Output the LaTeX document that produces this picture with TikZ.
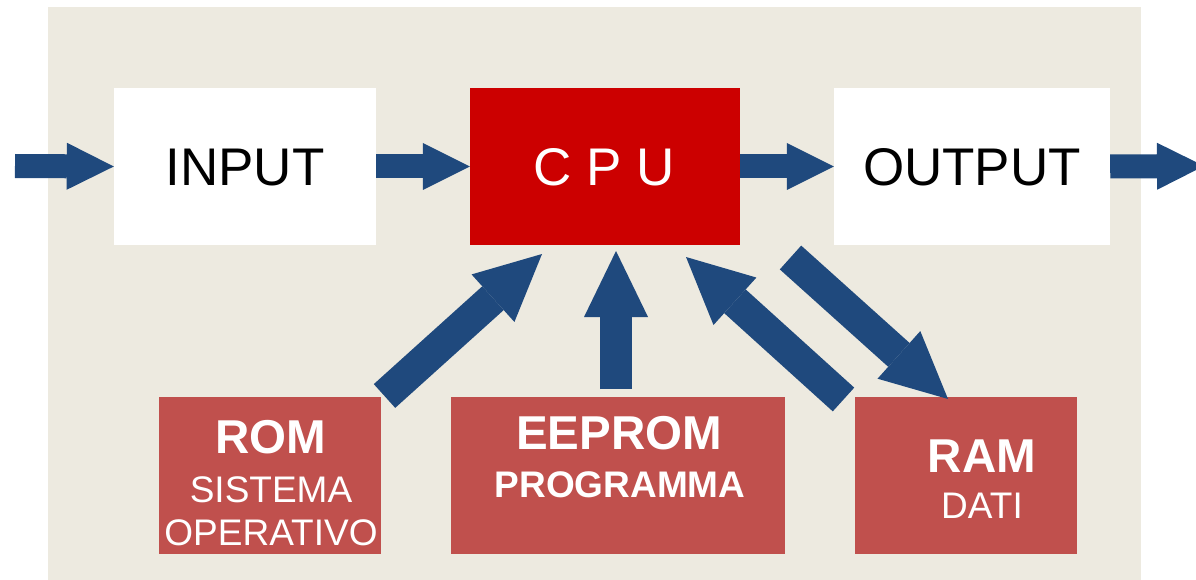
\documentclass[tikz,border=0pt]{standalone}
\usepackage{fontspec}
\setmainfont{Liberation Sans}
\usetikzlibrary{arrows.meta,calc}
\definecolor{bgbeige}{HTML}{EDEAE0}
\definecolor{cpured}{HTML}{CC0000}
\definecolor{memred}{HTML}{C0504D}
\definecolor{arrowblue}{HTML}{1F497D}
\tikzset{
  topbox/.style={rectangle, inner sep=0pt, minimum height=157pt, fill=#1},
  membox/.style={rectangle, inner sep=0pt, minimum height=157pt, fill=memred},
  bigtxt/.style={anchor=base, inner sep=0pt, font=\fontsize{53}{60}\selectfont},
  memtitle/.style={anchor=base, inner sep=0pt, text=white, font=\fontsize{47.5}{54}\selectfont\bfseries},
  memsub/.style={anchor=base, inner sep=0pt, text=white, font=\fontsize{37}{42}\selectfont},
  memsubbold/.style={anchor=base, inner sep=0pt, text=white, font=\fontsize{37}{42}\selectfont\bfseries},
  harrow/.style={draw=arrowblue, line width=24pt,
    -{Triangle[length=47pt,width=47pt,line width=0pt]}},
  darrow/.style={draw=arrowblue, line width=32pt,
    -{Triangle[length=66pt,width=64pt,line width=0pt]}}
}
\begin{document}
\begin{tikzpicture}[x=1pt,y=-1pt]
\useasboundingbox (0,0) rectangle (1196,580);
\fill[bgbeige] (48,7) rectangle (1141,580);

% top row
\node[topbox=white, minimum width=262pt] (input) at (245,166.5) {};
\node[topbox=cpured, minimum width=270pt] (cpu) at (605,166.5) {};
\node[topbox=white, minimum width=276pt] (output) at (972,166.5) {};
\node[bigtxt] (inputtxt) at (245,185.5) {INPUT};
\node[bigtxt, text=white] (cputxt) at (604,185.5) {C P U};
\node[bigtxt] (outputtxt) at (972,185.5) {OUTPUT};

% memory boxes
\node[membox, minimum width=222pt] (rom) at (270,475.5) {};
\node[membox, minimum width=334pt] (eeprom) at (618,475.5) {};
\node[membox, minimum width=222pt] (ram) at (966,475.5) {};
\node[memtitle] (romtxt) at (271,453) {ROM};
\node[memsub] (romsub1) at (271,502) {SISTEMA};
\node[memsub] (romsub2) at (271,545) {OPERATIVO};
\node[memtitle] (eepromtxt) at (619,449) {EEPROM};
\node[memsubbold] (eepromsub) at (620,497) {PROGRAMMA};
\node[memtitle] (ramtxt) at (982,472) {RAM};
\node[memsub] (ramsub) at (982,518) {DATI};

% free arrow ends
\coordinate (inflow) at (15,166);
\coordinate (outflow) at (1204,166);
\coordinate (romtail) at (384.5,396);
\coordinate (romtip) at (542,254);
\coordinate (eetail) at (616,389);
\coordinate (eetip) at (616,251);
\coordinate (ramtail) at (843.5,399.5);
\coordinate (ramtip) at (686,257);
\coordinate (cputail) at (790.5,257.5);
\coordinate (cputip) at (948,399);

% arrows
\draw[harrow] (inflow) -- (input.west);
\draw[harrow] (input.east) -- (cpu.west);
\draw[harrow] (cpu.east) -- (output.west);
\draw[harrow] (output.east) -- (outflow);
\draw[darrow] (romtail) -- (romtip);
\draw[darrow] (eetail) -- (eetip);
\draw[darrow] (ramtail) -- (ramtip);
\draw[darrow] (cputail) -- (cputip);
\end{tikzpicture}
\end{document}
